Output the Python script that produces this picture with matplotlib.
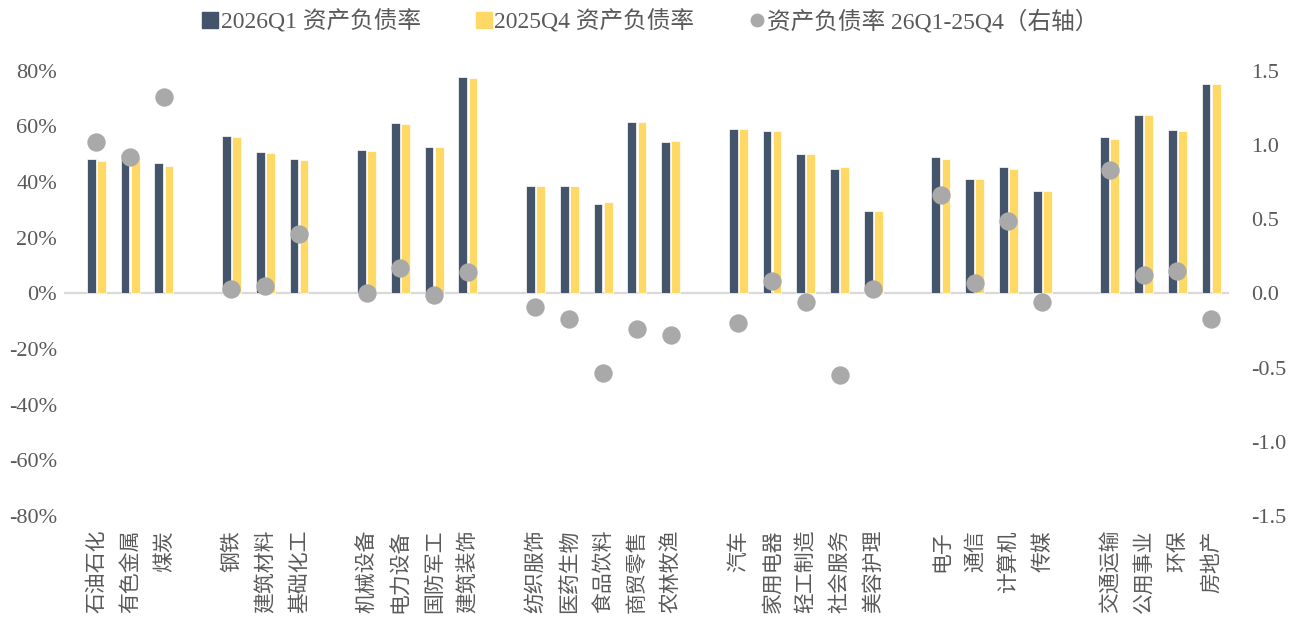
import matplotlib
matplotlib.use("Agg")
import matplotlib.pyplot as plt
from matplotlib.lines import Line2D
from matplotlib.ticker import FuncFormatter
import numpy as np

plt.rcParams['font.family'] = ['Liberation Serif', 'Noto Sans CJK SC', 'DejaVu Sans']
plt.rcParams['axes.unicode_minus'] = False

groups = [
    ["石油石化", "有色金属", "煤炭"],
    ["钢铁", "建筑材料", "基础化工"],
    ["机械设备", "电力设备", "国防军工", "建筑装饰"],
    ["纺织服饰", "医药生物", "食品饮料", "商贸零售", "农林牧渔"],
    ["汽车", "家用电器", "轻工制造", "社会服务", "美容护理"],
    ["电子", "通信", "计算机", "传媒"],
    ["交通运输", "公用事业", "环保", "房地产"],
]
q1_2026 = [48.4, 50.0, 46.9,
           56.6, 50.6, 48.2,
           51.3, 61.0, 52.6, 77.6,
           38.4, 38.4, 32.2, 61.4, 54.3,
           59.0, 58.3, 49.9, 44.8, 29.6,
           49.0, 41.2, 45.2, 36.7,
           56.1, 64.0, 58.5, 75.0]
q4_2025 = [47.5, 49.1, 45.7,
           56.3, 50.4, 47.7,
           51.1, 60.8, 52.5, 77.3,
           38.4, 38.4, 32.8, 61.5, 54.7,
           59.0, 58.3, 50.0, 45.3, 29.6,
           48.2, 41.0, 44.6, 36.7,
           55.3, 63.9, 58.3, 75.0]
diff = [1.02, 0.92, 1.32,
        0.03, 0.05, 0.40,
        0.00, 0.17, -0.01, 0.14,
        -0.09, -0.17, -0.54, -0.24, -0.28,
        -0.20, 0.08, -0.06, -0.55, 0.03,
        0.66, 0.07, 0.49, -0.06,
        0.83, 0.12, 0.15, -0.17]
left_ticks = [-80, -60, -40, -20, 0, 20, 40, 60, 80]
right_ticks = [-1.5, -1.0, -0.5, 0.0, 0.5, 1.0, 1.5]

# slot positions with one blank slot between groups
cats, xs = [], []
pos = 0
for g in groups:
    for c in g:
        cats.append(c)
        xs.append(pos)
        pos += 1
    pos += 1
xs = np.array(xs, dtype=float)

NAVY = "#44546A"
YELLOW = "#FFD966"
GRAY = "#A9A9A9"
TXT = "#595959"

fig = plt.figure(figsize=(13.01, 6.28), dpi=100)
ax = fig.add_axes([0.0492, 0.1783, 0.8955, 0.7094])
ax2 = ax.twinx()

w = 0.26
ax.bar(xs - 0.15, q1_2026, width=w, color=NAVY, edgecolor="white", linewidth=0.5, zorder=2)
ax.bar(xs + 0.15, q4_2025, width=w, color=YELLOW, edgecolor="white", linewidth=0.5, zorder=2)
ax.axhline(0, color="#D9D9D9", linewidth=1.6, zorder=1)

ax2.scatter(xs, diff, s=175, color=GRAY, zorder=3, linewidths=0)

ax.set_xlim(-0.956, 33.53)
ax.set_ylim(-80, 80)
ax2.set_ylim(-1.5, 1.5)

ax.set_yticks(left_ticks)
ax.yaxis.set_major_formatter(FuncFormatter(lambda v, p: f"{int(round(v))}%"))
ax2.set_yticks(right_ticks)
ax2.yaxis.set_major_formatter(FuncFormatter(lambda v, p: f"{v:.1f}"))

for a in (ax, ax2):
    for s in a.spines.values():
        s.set_visible(False)

ax.tick_params(axis='y', length=0, pad=5, labelsize=16, labelcolor=TXT)
ax2.tick_params(axis='y', length=0, pad=16, labelsize=16, labelcolor=TXT)
ax.set_xticks(xs)
ax.set_xticklabels(cats, rotation=90, va='top', ha='center', fontsize=15, color=TXT,
                   family=['Noto Sans CJK SC', 'DejaVu Sans'])
ax.tick_params(axis='x', length=0, pad=10)

handles = [
    Line2D([], [], marker='s', linestyle='none', color=NAVY, markersize=11),
    Line2D([], [], marker='s', linestyle='none', color=YELLOW, markersize=11),
    Line2D([], [], marker='o', linestyle='none', color=GRAY, markersize=9),
]
labels = ["2026Q1 资产负债率", "2025Q4 资产负债率", "资产负债率 26Q1-25Q4（右轴）"]
leg = fig.legend(handles, labels, loc='upper center', bbox_to_anchor=(0.5, 1.018), ncol=3,
                 frameon=False, fontsize=17, handlelength=0.7, handletextpad=0.1,
                 columnspacing=2.3, labelcolor=TXT)

fig.savefig("out.png", dpi=100)
